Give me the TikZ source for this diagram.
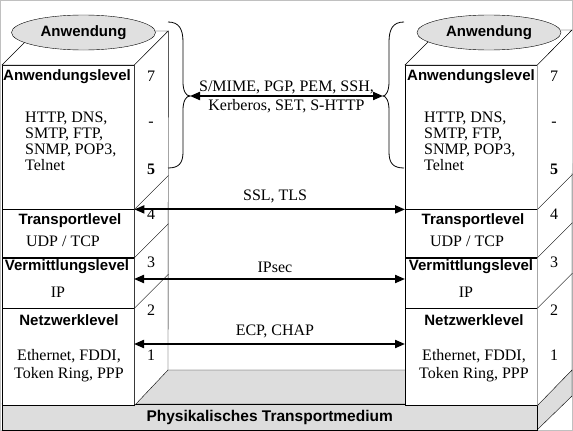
\documentclass[tikz,border=0pt]{standalone}
\usepackage{fontspec}
\setmainfont{Liberation Serif}
\newfontfamily\arialfont{Liberation Sans}
\usetikzlibrary{arrows.meta,positioning,shapes.geometric}
\definecolor{floorgray}{HTML}{DDDDDD}
\definecolor{ovalgray}{HTML}{E0E0E0}
\definecolor{framegray}{HTML}{C0C0C0}

\begin{document}
\begin{tikzpicture}[x=1pt, y=-1pt,
  layer/.style={draw=black, fill=white, minimum width=132pt, inner sep=0pt},
  oval/.style={ellipse, draw=black, fill=ovalgray, minimum width=144pt,
               minimum height=35pt, inner sep=0pt,
               font=\arialfont\bfseries\fontsize{15}{16}\selectfont},
  title/.style={font=\arialfont\bfseries\fontsize{15}{16}\selectfont, inner sep=0pt},
  proto/.style={font=\fontsize{16}{16}\selectfont, inner sep=0pt},
  num/.style={font=\fontsize{16}{16}\selectfont, inner sep=0pt},
  sec arrow/.style={{Triangle[length=10pt,width=8pt]}-{Triangle[length=10pt,width=8pt]},
                    line width=2pt},
  brace/.style={draw=black, line width=0.8pt}
]
  \useasboundingbox (0,0) rectangle (573,431);
  \draw[framegray] (0.5,0.5) rectangle (572.5,430.5);

  % physical medium
  \draw[fill=floorgray] (2,404) -- (36,370) -- (572,370) -- (537,404) -- cycle;
  \draw[fill=floorgray] (537,404) -- (572,370) -- (572,396) -- (537,430) -- cycle;
  \node[layer, fill=floorgray, minimum width=535pt, minimum height=26pt,
        anchor=north west, font=\arialfont\bfseries\fontsize{15.5}{16}\selectfont]
    (medium) at (2,404) {Physikalisches Transportmedium};

  % left stack
  \node[layer, minimum height=144pt, anchor=north west] (lapp) at (2,65) {};
  \node[layer, minimum height=48pt, below=0pt of lapp] (ltra) {};
  \node[layer, minimum height=50pt, below=0pt of ltra] (lver) {};
  \node[layer, minimum height=97pt, below=0pt of lver] (lnet) {};
  \draw[fill=white] (lapp.north west) -- ++(34,-34) -- ++(132,0) -- (lapp.north east) -- cycle;
  \draw[fill=white] (lapp.north east) -- ++(34,-34) -- (168,370) -- (lnet.south east) -- cycle;
  \draw (lapp.south east) -- ++(34,-34) (ltra.south east) -- ++(34,-34)
        (lver.south east) -- ++(34,-34);

  % right stack
  \node[layer, minimum height=144pt, anchor=north west] (rapp) at (405,65) {};
  \node[layer, minimum height=48pt, below=0pt of rapp] (rtra) {};
  \node[layer, minimum height=50pt, below=0pt of rtra] (rver) {};
  \node[layer, minimum height=97pt, below=0pt of rver] (rnet) {};
  \draw[fill=white] (rapp.north west) -- ++(35,-35) -- ++(132,0) -- (rapp.north east) -- cycle;
  \fill[white] (rapp.north east) -- ++(35,-35) -- (572,370) -- (rnet.south east) -- cycle;
  \draw (rapp.north east) -- (572,30) (572,173) -- (572,370) -- (rnet.south east);
  \draw (rapp.south east) -- ++(35,-35) (rtra.south east) -- ++(35,-35)
        (rver.south east) -- ++(35,-35);

  % applications
  \node[oval] (lappl) at (83.5,32.5) {Anwendung};
  \node[oval] (rappl) at (489,32.5) {Anwendung};

  % left labels
  \node[title] (lappt) at (67,77) {Anwendungslevel};
  \node[proto, align=left, anchor=west] (lappp) at (25,141)
    {HTTP, DNS,\\SMTP, FTP,\\SNMP, POP3,\\Telnet};
  \node[title] (ltrat) at (70,221) {Transportlevel};
  \node[proto] (ltrap) at (63,241) {UDP / TCP};
  \node[title] (lvert) at (67,267) {Vermittlungslevel};
  \node[proto] (lverp) at (58,292) {IP};
  \node[title] (lnett) at (69,320) {Netzwerklevel};
  \node[proto, align=center, font=\fontsize{16}{18}\selectfont] (lnetp) at (69,366)
    {Ethernet, FDDI,\\Token Ring, PPP};

  % right labels
  \node[title] (rappt) at (471,77) {Anwendungslevel};
  \node[proto, align=left, anchor=west] (rappp) at (424,141)
    {HTTP, DNS,\\SMTP, FTP,\\SNMP, POP3,\\Telnet};
  \node[title] (rtrat) at (473,221) {Transportlevel};
  \node[proto] (rtrap) at (467,241) {UDP / TCP};
  \node[title] (rvert) at (471,267) {Vermittlungslevel};
  \node[proto] (rverp) at (466,292) {IP};
  \node[title] (rnett) at (474,320) {Netzwerklevel};
  \node[proto, align=center, font=\fontsize{16}{18}\selectfont] (rnetp) at (474,366)
    {Ethernet, FDDI,\\Token Ring, PPP};

  % level numbers
  \node[num] (l7) at (151,76) {7};
  \node[num] (lm) at (151,124) {-};
  \node[num, font=\bfseries\fontsize{16}{16}\selectfont] (l5) at (151,169) {5};
  \node[num] (l4) at (151,214) {4};
  \node[num] (l3) at (151,262) {3};
  \node[num] (l2) at (151,310) {2};
  \node[num] (l1) at (151,355) {1};
  \node[num] (r7) at (554,76) {7};
  \node[num] (rm) at (554,124) {-};
  \node[num, font=\bfseries\fontsize{16}{16}\selectfont] (r5) at (554,169) {5};
  \node[num] (r4) at (554,214) {4};
  \node[num] (r3) at (554,262) {3};
  \node[num] (r2) at (554,310) {2};
  \node[num] (r1) at (554,355) {1};

  % braces
  \coordinate (lbrace) at (190,96);
  \coordinate (rbrace) at (383,96);
  \draw[brace] (168,22) .. controls (179,22) and (183,29) .. (183,42) -- (183,82)
    .. controls (183,91) and (186,96) .. (lbrace)
    .. controls (186,96) and (183,101) .. (183,110) -- (183,152)
    .. controls (183,163) and (179,168) .. (168,168);
  \draw[brace] (404,22) .. controls (393,22) and (389,29) .. (389,42) -- (389,82)
    .. controls (389,91) and (386,96) .. (rbrace)
    .. controls (386,96) and (389,101) .. (389,110) -- (389,152)
    .. controls (389,163) and (393,168) .. (404,168);

  % security protocols
  \coordinate (lip) at (134,279);
  \coordinate (rip) at (405,279);
  \coordinate (lppp) at (134,344);
  \coordinate (rppp) at (405,344);
  \draw[sec arrow] (lbrace) -- (rbrace)
    node[midway, above=1pt, proto] (smime) {S/MIME, PGP, PEM, SSH,}
    node[midway, below=2pt, proto] (kerb) {Kerberos, SET, S-HTTP};
  \draw[sec arrow] (lapp.south east) -- (rapp.south west)
    node[pos=0.52, above=5pt, proto] (ssl) {SSL, TLS};
  \draw[sec arrow] (lip) -- (rip)
    node[pos=0.52, above=5pt, proto] (ipsec) {IPsec};
  \draw[sec arrow] (lppp) -- (rppp)
    node[pos=0.52, above=5pt, proto] (ecp) {ECP, CHAP};
\end{tikzpicture}
\end{document}
